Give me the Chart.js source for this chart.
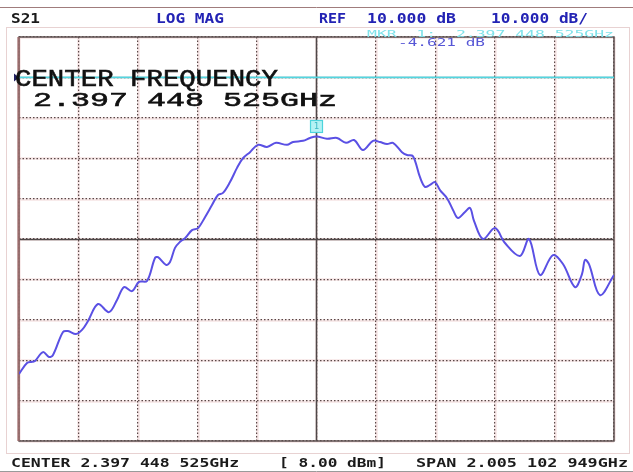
<!DOCTYPE html>
<html>
<head>
<meta charset="utf-8">
<script src="https://cdn.jsdelivr.net/npm/chart.js@4"></script>
<style>
  body { margin: 0; background: #fff; }
  #wrap { position: relative; width: 633px; height: 472px; overflow: hidden; background: #fff; }
  #wrap canvas { position: absolute; left: 0; top: 0; }
  .t { position: absolute; white-space: pre; transform-origin: 0 0; }
</style>
</head>
<body>
<div id="wrap"><canvas id="s21" width="633" height="472"></canvas></div>
<script>
// sweep settings
const centerGHz = 2.397448525;
const spanGHz = 2.005102949;
const refLevel = 10;       // dB, on the 9th division
const scalePerDiv = 10;    // dB / div
const markerGHz = 2.397448525;
const markerDb = -4.621;

// trace
const freqGHz = [1.3949, 1.4219, 1.4387, 1.4488, 1.4758, 1.4960, 1.5095, 1.5432, 1.5600, 1.5870,
  1.6072, 1.6274, 1.6611, 1.6982, 1.7252, 1.7488, 1.7757, 1.7993, 1.8263, 1.8532,
  1.8633, 1.8903, 1.9038, 1.9206, 1.9375, 1.9543, 1.9779, 1.9981, 2.0217, 2.0453,
  2.0655, 2.0824, 2.1060, 2.1296, 2.1498, 2.1734, 2.2003, 2.2306, 2.2610, 2.2980,
  2.3183, 2.3520, 2.3755, 2.3974, 2.4328, 2.4665, 2.4968, 2.5238, 2.5541, 2.5878,
  2.6114, 2.6350, 2.6552, 2.6855, 2.7024, 2.7226, 2.7462, 2.7630, 2.7799, 2.7967,
  2.8136, 2.8372, 2.8574, 2.8743, 2.8979, 2.9147, 2.9282, 2.9585, 2.9989, 3.0326,
  3.0832, 3.1135, 3.1506, 3.1944, 3.2281, 3.2685, 3.2921, 3.3022, 3.3157, 3.3527, 3.4000];
const s21dB = [-63.4, -60.7, -60.4, -60.2, -58.0, -59.2, -58.7, -53.0, -52.8, -53.5,
  -52.5, -50.3, -46.1, -48.1, -45.1, -41.9, -42.9, -40.6, -40.4, -34.7,
  -34.5, -36.4, -35.7, -32.2, -30.7, -29.8, -27.8, -27.3, -24.6, -21.6,
  -19.1, -18.6, -15.9, -12.4, -10.0, -8.5, -6.7, -7.2, -6.2, -6.7,
  -6.0, -5.7, -5.0, -4.62, -5.2, -5.0, -6.2, -5.5, -8.0, -5.7,
  -6.0, -6.5, -6.2, -8.5, -9.2, -9.5, -14.7, -17.1, -16.6, -15.9,
  -17.9, -19.9, -22.8, -24.8, -23.3, -22.3, -25.5, -30.0, -27.3, -31.0,
  -34.2, -30.0, -38.9, -34.0, -36.2, -41.9, -38.7, -35.2, -36.2, -43.9, -38.9];

const startGHz = centerGHz - spanGHz / 2;
const stopGHz = centerGHz + spanGHz / 2;
const topDb = refLevel + scalePerDiv;
const bottomDb = refLevel - 9 * scalePerDiv;

// screen furniture: frames, solid centre graticule, reference line, marker flag
const analyzer = {
  id: 'analyzer',
  beforeDraw(chart) {
    const {ctx, chartArea: a, scales: {x, y}} = chart;
    ctx.save();
    ctx.strokeStyle = '#a07c7c';
    ctx.lineWidth = 1;
    ctx.beginPath();
    ctx.moveTo(0, 7.5); ctx.lineTo(633, 7.5);
    ctx.stroke();
    ctx.strokeStyle = '#9a9a9a';
    ctx.beginPath();
    ctx.moveTo(0, 471.5); ctx.lineTo(633, 471.5);
    ctx.stroke();
    ctx.strokeStyle = '#e8d2d2';
    ctx.strokeRect(6.5, 27.5, 623, 426);
    // faint pink halo under the dotted graticule
    ctx.strokeStyle = 'rgba(232,196,196,0.45)';
    ctx.lineWidth = 2.5;
    ctx.beginPath();
    x.ticks.forEach(t => {
      const px = Math.round(x.getPixelForValue(t.value)) + 0.5;
      ctx.moveTo(px, a.top); ctx.lineTo(px, a.bottom);
    });
    y.ticks.forEach(t => {
      const py = Math.round(y.getPixelForValue(t.value)) + 0.5;
      ctx.moveTo(a.left, py); ctx.lineTo(a.right, py);
    });
    ctx.stroke();
    ctx.restore();
  },
  beforeDatasetsDraw(chart) {
    const {ctx, chartArea: a, scales: {x, y}} = chart;
    ctx.save();
    ctx.strokeStyle = '#4e4848';
    ctx.lineWidth = 1.5;
    const cx = Math.round(x.getPixelForValue(centerGHz)) + 0.5;
    const cy = Math.round(y.getPixelForValue((topDb + bottomDb) / 2)) + 0.5;
    ctx.beginPath();
    ctx.moveTo(cx, a.top); ctx.lineTo(cx, a.bottom);
    ctx.moveTo(a.left, cy); ctx.lineTo(a.right, cy);
    ctx.stroke();
    // outer graticule border
    ctx.strokeStyle = '#5e5252';
    ctx.lineWidth = 1.5;
    ctx.strokeRect(a.left, a.top, a.width, a.height);
    ctx.strokeStyle = 'rgba(160,110,110,0.85)';
    ctx.lineWidth = 2.5;
    ctx.beginPath();
    ctx.moveTo(a.left - 0.5, a.top); ctx.lineTo(a.left - 0.5, a.bottom);
    ctx.stroke();
    // reference line
    const ry = y.getPixelForValue(refLevel);
    ctx.strokeStyle = '#52d6e0';
    ctx.lineWidth = 1.6;
    ctx.beginPath();
    ctx.moveTo(a.left, ry); ctx.lineTo(a.right, ry);
    ctx.stroke();
    ctx.fillStyle = '#202060';
    ctx.beginPath();
    ctx.moveTo(a.left - 5, ry - 4); ctx.lineTo(a.left, ry); ctx.lineTo(a.left - 5, ry + 4);
    ctx.closePath();
    ctx.fill();
    ctx.restore();
  },
  afterDatasetsDraw(chart) {
    const {ctx, scales: {x, y}} = chart;
    const mx = x.getPixelForValue(markerGHz);
    const my = y.getPixelForValue(markerDb);
    ctx.save();
    ctx.fillStyle = '#b4f2f4';
    ctx.strokeStyle = '#4cd4dc';
    ctx.lineWidth = 1.2;
    ctx.fillRect(mx - 6, my - 16, 12, 12);
    ctx.strokeRect(mx - 6, my - 16, 12, 12);
    ctx.fillStyle = '#3cb8c4';
    ctx.font = '9px "DejaVu Sans Mono"';
    ctx.textAlign = 'center';
    ctx.textBaseline = 'middle';
    ctx.fillText('1', mx, my - 10);
    ctx.restore();
  }
};

const gridStyle = { color: '#5a4848', lineWidth: 1.2, drawTicks: false };

new Chart(document.getElementById('s21'), {
  type: 'line',
  data: {
    datasets: [{
      label: 'S21',
      data: freqGHz.map((f, i) => ({ x: f, y: s21dB[i] })),
      borderColor: '#5a50e4',
      borderWidth: 2,
      pointRadius: 0,
      tension: 0.35,
      fill: false,
    }],
  },
  options: {
    responsive: false,
    animation: false,
    layout: { padding: { left: 19, right: 19, top: 37, bottom: 31 } },
    plugins: { legend: { display: false }, tooltip: { enabled: false } },
    scales: {
      x: {
        type: 'linear',
        min: startGHz,
        max: stopGHz,
        ticks: { display: false },
        afterBuildTicks: (s) => {
          s.ticks = [0, 1, 2, 3, 4, 5, 6, 7, 8, 9, 10].map(i => ({ value: startGHz + i * spanGHz / 10 }));
        },
        grid: gridStyle,
        border: { display: false, dash: [1.5, 2] },
      },
      y: {
        min: bottomDb,
        max: topDb,
        ticks: { display: false, stepSize: scalePerDiv },
        grid: gridStyle,
        border: { display: false, dash: [1.5, 2] },
      },
    },
  },
  plugins: [analyzer],
});

// on-screen annotations, fitted to the cap height and width seen in the picture
const texts = [
  { text: 'S21', x: 11, top: 13, bottom: 23, w: 29, color: '#1a1a1a', font: 'bold {s}px "DejaVu Sans Mono"' },
  { text: 'LOG MAG', x: 156, top: 13, bottom: 23, w: 68, color: '#2323b4', font: 'bold {s}px "DejaVu Sans Mono"' },
  { text: 'REF', x: 319, top: 13, bottom: 23, w: 27, color: '#2323b4', font: 'bold {s}px "DejaVu Sans Mono"' },
  { text: '10.000 dB', x: 367, top: 13, bottom: 23, w: 89, color: '#2323b4', font: 'bold {s}px "DejaVu Sans Mono"' },
  { text: '10.000 dB/', x: 491, top: 13, bottom: 23, w: 97, color: '#2323b4', font: 'bold {s}px "DejaVu Sans Mono"' },
  { text: 'MKR  1:  2.397 448 525GHz', x: 367, top: 30, bottom: 37, w: 247, color: '#7fe2ea', font: '{s}px "DejaVu Sans Mono"' },
  { text: '-4.621 dB', x: 398, top: 38, bottom: 46, w: 87, color: '#5656d6', font: '{s}px "DejaVu Sans Mono"' },
  { text: 'CENTER FREQUENCY', x: 15, top: 70, bottom: 86, w: 263, color: '#111', font: '{s}px "Liberation Mono"', stroke: true },
  { text: '2.397 448 525GHz', x: 33, top: 92, bottom: 106, w: 304, color: '#111', font: '{s}px "Liberation Mono"', stroke: true },
  { text: 'CENTER 2.397 448 525GHz', x: 11, top: 458, bottom: 467, w: 228, color: '#1a1a1a', font: 'bold {s}px "DejaVu Sans Mono"' },
  { text: '[ 8.00 dBm]', x: 279, top: 458, bottom: 467, w: 107, color: '#1a1a1a', font: 'bold {s}px "DejaVu Sans Mono"' },
  { text: 'SPAN 2.005 102 949GHz', x: 416, top: 458, bottom: 467, w: 212, color: '#1a1a1a', font: 'bold {s}px "DejaVu Sans Mono"' },
];

const wrap = document.getElementById('wrap');
const mctx = document.createElement('canvas').getContext('2d');
texts.forEach(l => {
  mctx.font = l.font.replace('{s}', 100);
  const cap = mctx.measureText('H').actualBoundingBoxAscent / 100;
  const size = (l.bottom - l.top) / cap;
  const font = l.font.replace('{s}', size.toFixed(2));
  mctx.font = font;
  const m = mctx.measureText(l.text);
  const asc = m.fontBoundingBoxAscent, desc = m.fontBoundingBoxDescent;
  const el = document.createElement('div');
  el.className = 't';
  el.textContent = l.text;
  el.style.font = font;
  el.style.lineHeight = (asc + desc) + 'px';
  el.style.color = l.color;
  el.style.left = l.x + 'px';
  el.style.top = (l.bottom - asc) + 'px';
  el.style.transform = 'scaleX(' + (l.w / m.width).toFixed(3) + ')';
  if (l.stroke) el.style.webkitTextStroke = '0.6px ' + l.color;
  wrap.appendChild(el);
});
</script>
</body>
</html>
